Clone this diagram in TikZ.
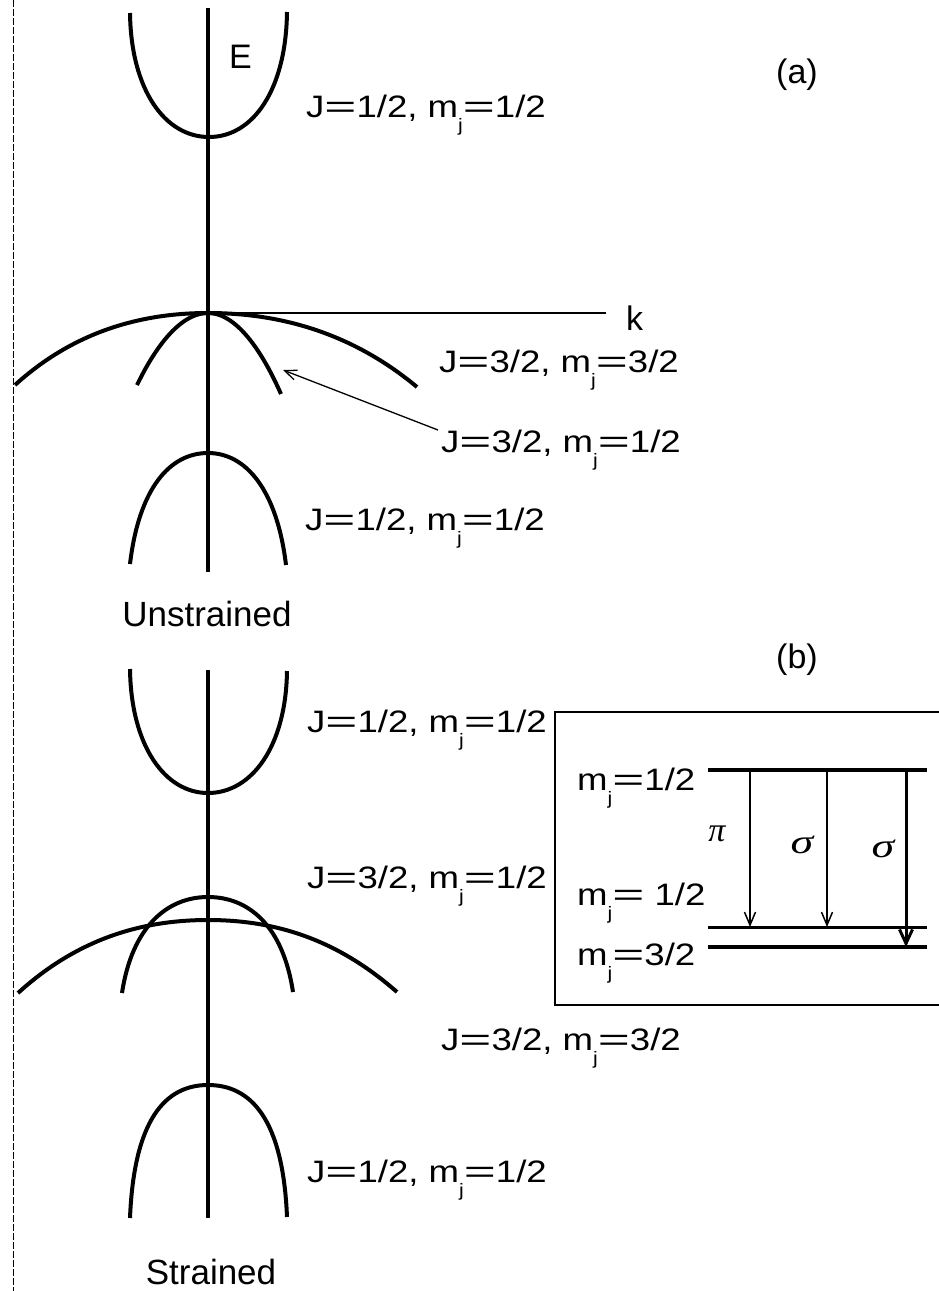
\documentclass[tikz,border=0pt]{standalone}
\usepackage{fontspec}
\usepackage{graphicx}
\setmainfont{Liberation Sans}
\newfontfamily\lblfont{Liberation Sans}[FakeStretch=1.18]
\newfontfamily\grkfont{Liberation Serif}
\usetikzlibrary{arrows.meta}
\newcommand{\mj}{m\raisebox{-0.9ex}{\fontsize{18}{18}\selectfont j}}
\newcommand{\weq}{\scalebox{1.5}[1]{=}}
\tikzset{
  band/.style={line width=4pt},
  eaxis/.style={line width=4.5pt},
  kaxis/.style={line width=2pt},
  lbl/.style={inner sep=0pt, anchor=base west, font=\lblfont\fontsize{31}{34}\selectfont},
  ttl/.style={inner sep=0pt, font=\fontsize{35}{40}\selectfont},
  pol/.style={inner sep=0pt, font=\fontsize{34}{34}\selectfont\grkfont\itshape},
  level/.style={line width=4pt},
  thinlevel/.style={line width=3pt},
  trans/.style={line width=1.5pt, -{Straight Barb[length=13pt,width=11pt,line width=1.5pt]}},
  thicktrans/.style={line width=3pt, -{Straight Barb[length=14pt,width=13pt,line width=3pt]}},
  pointer/.style={line width=1.3pt, -{Straight Barb[length=12pt,width=10pt,line width=1.3pt]}},
}
\begin{document}
\begin{tikzpicture}[x=1pt,y=-1pt]
\useasboundingbox (0,0) rectangle (939,1291);
\fill[white] (0,0) rectangle (939,1291);

% scan edge
\draw[line width=0.8pt, dash pattern=on 7pt off 2pt] (13,0) -- (13,1291);

% ---------------- panel (a) ----------------
\coordinate (aTop) at (208,8);
\coordinate (aBot) at (208,572);
\coordinate (kO) at (208,313);
\coordinate (kEnd) at (606,313);
\draw[eaxis] (aTop) -- (aBot);
\draw[kaxis] (kO) -- (kEnd);
\node[inner sep=0pt, anchor=base west, font=\fontsize{34}{36}\selectfont] (E) at (229,68) {E};
\node[inner sep=0pt, anchor=base west, font=\fontsize{34}{36}\selectfont] (k) at (626,330) {k};

% conduction band
\draw[band] (130,13) .. controls (131,90) and (165,137) .. (209,137)
                     .. controls (253,137) and (286,90) .. (287,12);
% heavy hole (wide)
\draw[band] (15,385) .. controls (70,335) and (135,313) .. (208,313)
                     .. controls (287,313) and (357,337) .. (417,387);
% light hole (narrow)
\draw[band] (137,385) parabola bend (208,313) (281,394);
% split-off
\draw[band] (130,564) .. controls (139,488) and (170,453) .. (208,453)
                      .. controls (246,453) and (277,490) .. (286,565);

\node[lbl] (a1) at (306,117) {J\weq1/2, \mj\weq1/2};
\node[lbl] (a2) at (439,372) {J\weq3/2, \mj\weq3/2};
\node[lbl] (a3) at (441,452) {J\weq3/2, \mj\weq1/2};
\node[lbl] (a4) at (305,530) {J\weq1/2, \mj\weq1/2};
\coordinate (lhTip) at (283,370);
\coordinate (a3tail) at (438,430);
\draw[pointer] (a3tail) -- (lhTip);

\node[ttl] (unstr) at (207,614) {Unstrained};
\node[ttl, font=\fontsize{34}{40}\selectfont] (la) at (797,75) {(a)};
\node[ttl, font=\fontsize{34}{40}\selectfont] (lb) at (797,660) {(b)};

% ---------------- panel (b) ----------------
\coordinate (bTop) at (208,670);
\coordinate (bBot) at (208,1218);
\draw[eaxis] (bTop) -- (bBot);

\draw[band] (130,669) .. controls (131,746) and (165,793) .. (208,793)
                      .. controls (252,793) and (286,746) .. (287,671);
\draw[band] (122,993) .. controls (132,927) and (167,897) .. (208,897)
                      .. controls (249,897) and (283,926) .. (293,992);
\draw[band] (18,993) .. controls (73,943) and (135,920) .. (208,920)
                     .. controls (280,920) and (340,942) .. (397,992);
\draw[band] (130,1218) .. controls (134,1120) and (165,1085) .. (208,1085)
                       .. controls (251,1085) and (283,1119) .. (287,1217);

\node[lbl] (b1) at (307,732) {J\weq1/2, \mj\weq1/2};
\node[lbl] (b2) at (307,888) {J\weq3/2, \mj\weq1/2};
\node[lbl] (b3) at (441,1050) {J\weq3/2, \mj\weq3/2};
\node[lbl] (b4) at (307,1182) {J\weq1/2, \mj\weq1/2};
\node[ttl] (str) at (211,1272) {Strained};

% ---------------- inset ----------------
\draw[line width=1.5pt] (939,712) -- (555,712) -- (555,1005) -- (939,1005);
\coordinate (u1) at (708,770);
\coordinate (u2) at (927,770);
\coordinate (m1) at (708,927);
\coordinate (m2) at (927,927);
\coordinate (d1) at (708,947);
\coordinate (d2) at (927,947);
\draw[level] (u1) -- (u2);
\draw[thinlevel] (m1) -- (m2);
\draw[level] (d1) -- (d2);

\coordinate (t1s) at (750,770);
\coordinate (t1e) at (750,927);
\coordinate (t2s) at (827,770);
\coordinate (t2e) at (827,927);
\coordinate (t3s) at (906,770);
\coordinate (t3e) at (906,947);
\draw[trans] (t1s) -- (t1e);
\draw[trans] (t2s) -- (t2e);
\draw[thicktrans] (t3s) -- (t3e);

\node[lbl] (i1) at (577,790) {\mj\weq1/2};
\node[lbl] (i2) at (577,905) {\mj\weq\ 1/2};
\node[lbl] (i3) at (577,965) {\mj\weq3/2};
\node[pol] (pi) at (717,834) {π};
\node[pol] (s1) at (802,845) {\scalebox{1.35}[1]{σ}};
\node[pol] (s2) at (883,849) {\scalebox{1.35}[1]{σ}};
\end{tikzpicture}
\end{document}
